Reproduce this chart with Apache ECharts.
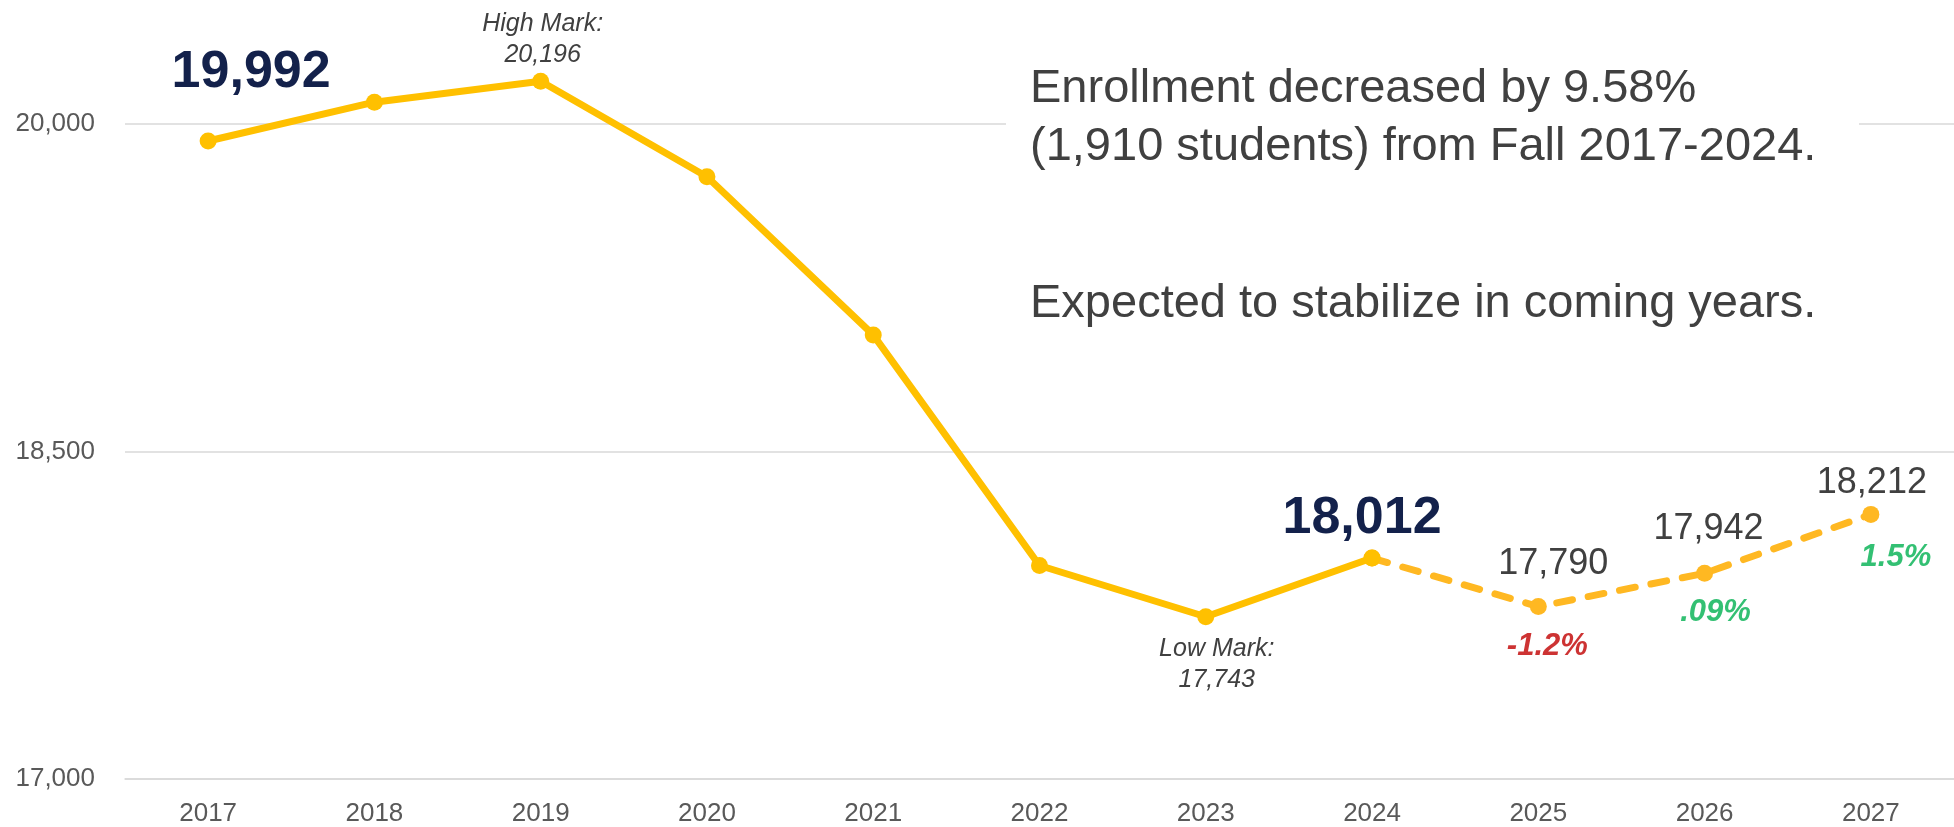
<!DOCTYPE html>
<html>
<head>
<meta charset="utf-8">
<script src="https://cdn.jsdelivr.net/npm/echarts@6/dist/echarts.min.js"></script>
<style>
html,body{margin:0;padding:0;background:#fff;}
#chart{width:1954px;height:827px;}
</style>
</head>
<body>
<div id="chart"></div>
<script>
// ---- data ----
const years = ['2017','2018','2019','2020','2021','2022','2023','2024','2025','2026','2027'];
const actual = [19922, 20100, 20196, 19758, 19034, 17978, 17743, 18012, null, null, null];
const projected = [null, null, null, null, null, null, null, 18012, 17790, 17942, 18212];
const valueLabels = ['19,992', '', 'High Mark:\n20,196', '', '', '', 'Low Mark:\n17,743', '18,012', '17,790', '17,942', '18,212'];
const changeLabels = ['', '', '', '', '', '', '', '', '-1.2%', '.09%', '1.5%'];
const yTicks = [17000, 18500, 20000];
const noteLines = ['Enrollment decreased by 9.58%', '(1,910 students) from Fall 2017-2024.', 'Expected to stabilize in coming years.'];

// ---- styling ----
const FONT = '"Liberation Sans", Arial, sans-serif';
const labelKinds = {
  big:  {fontSize: 52, fontWeight: 'bold', color: '#13214B'},
  mark: {fontSize: 25, fontStyle: 'italic', color: '#404040', lineHeight: 31},
  proj: {fontSize: 36, color: '#404040'},
  up:   {fontSize: 31, fontWeight: 'bold', fontStyle: 'italic', color: '#00B050'},
  down: {fontSize: 31, fontWeight: 'bold', fontStyle: 'italic', color: '#C00000'}
};
const valueLabelLayout = {
  0: {kind: 'big',  offset: [43, -68]},
  2: {kind: 'mark', offset: [2, -42]},
  6: {kind: 'mark', offset: [11, 48]},
  7: {kind: 'big',  offset: [-10, -39]},
  8: {kind: 'proj', offset: [15, -42]},
  9: {kind: 'proj', offset: [4, -44]},
  10: {kind: 'proj', offset: [1, -31]}
};
const changeLabelLayout = {
  8: {offset: [9, 40]},
  9: {offset: [11, 39]},
  10: {offset: [25, 43]}
};

function makeLabel(text, kind, offset) {
  return Object.assign({
    show: true, formatter: text, position: 'inside', offset: offset,
    fontFamily: FONT, align: 'center', verticalAlign: 'middle'
  }, labelKinds[kind]);
}

function buildData(values, owner) {
  return values.map((v, i) => {
    if (v === null) return null;
    const lay = valueLabelLayout[i];
    const item = {value: v};
    const belongs = owner === 'actual' ? i <= 7 : i > 7;
    if (lay && valueLabels[i] && belongs) {
      item.label = makeLabel(valueLabels[i], lay.kind, lay.offset);
    } else {
      item.label = {show: false};
    }
    return item;
  });
}

const changeData = projected.map((v, i) => {
  if (v === null || !changeLabels[i]) return null;
  const kind = changeLabels[i].charAt(0) === '-' ? 'down' : 'up';
  return {value: v, label: makeLabel(changeLabels[i], kind, changeLabelLayout[i].offset)};
});

const chart = echarts.init(document.getElementById('chart'), null, {renderer: 'canvas'});
chart.setOption({
  animation: false,
  backgroundColor: '#ffffff',
  grid: {left: 125, right: -12, top: 124, bottom: 45, containLabel: false},
  xAxis: {
    type: 'category',
    data: years,
    boundaryGap: true,
    axisLine: {show: true, lineStyle: {color: '#D9D9D9', width: 1.5}},
    axisTick: {show: false},
    axisLabel: {fontSize: 26, color: '#595959', fontFamily: FONT, margin: 22}
  },
  yAxis: {
    type: 'value',
    min: yTicks[0],
    max: yTicks[yTicks.length - 1],
    interval: yTicks[1] - yTicks[0],
    axisLine: {show: false},
    axisTick: {show: false},
    splitLine: {lineStyle: {color: '#D9D9D9', width: 1.5}},
    axisLabel: {
      fontSize: 26, color: '#595959', fontFamily: FONT, margin: 30,
      formatter: v => v.toLocaleString('en-US')
    }
  },
  series: [
    {
      type: 'line',
      name: 'Projected',
      data: buildData(projected, 'projected'),
      clip: false,
      z: 3,
      symbol: 'circle',
      symbolSize: 17,
      lineStyle: {color: '#FFB822', width: 7, type: [16, 16], cap: 'round'},
      itemStyle: {color: '#FFB822'}
    },
    {
      type: 'line',
      name: 'Actual',
      data: buildData(actual, 'actual'),
      clip: false,
      z: 4,
      symbol: 'circle',
      symbolSize: 17,
      lineStyle: {color: '#FFC000', width: 7, cap: 'round', join: 'round'},
      itemStyle: {color: '#FFC000'}
    },
    {
      type: 'scatter',
      name: 'Change',
      data: changeData,
      clip: false,
      z: 5,
      symbolSize: 1,
      itemStyle: {color: 'transparent'},
      silent: true
    }
  ],
  graphic: [
    {type: 'rect', z: 10, shape: {x: 1006, y: 40, width: 853, height: 300}, style: {fill: '#ffffff'}},
    {type: 'text', z: 11, x: 1030, y: 89, style: {text: noteLines[0], font: '47px ' + FONT, fill: '#404040', verticalAlign: 'middle'}},
    {type: 'text', z: 11, x: 1030, y: 147, style: {text: noteLines[1], font: '47px ' + FONT, fill: '#404040', verticalAlign: 'middle'}},
    {type: 'text', z: 11, x: 1030, y: 304, style: {text: noteLines[2], font: '47px ' + FONT, fill: '#404040', verticalAlign: 'middle'}}
  ]
});
</script>
</body>
</html>
